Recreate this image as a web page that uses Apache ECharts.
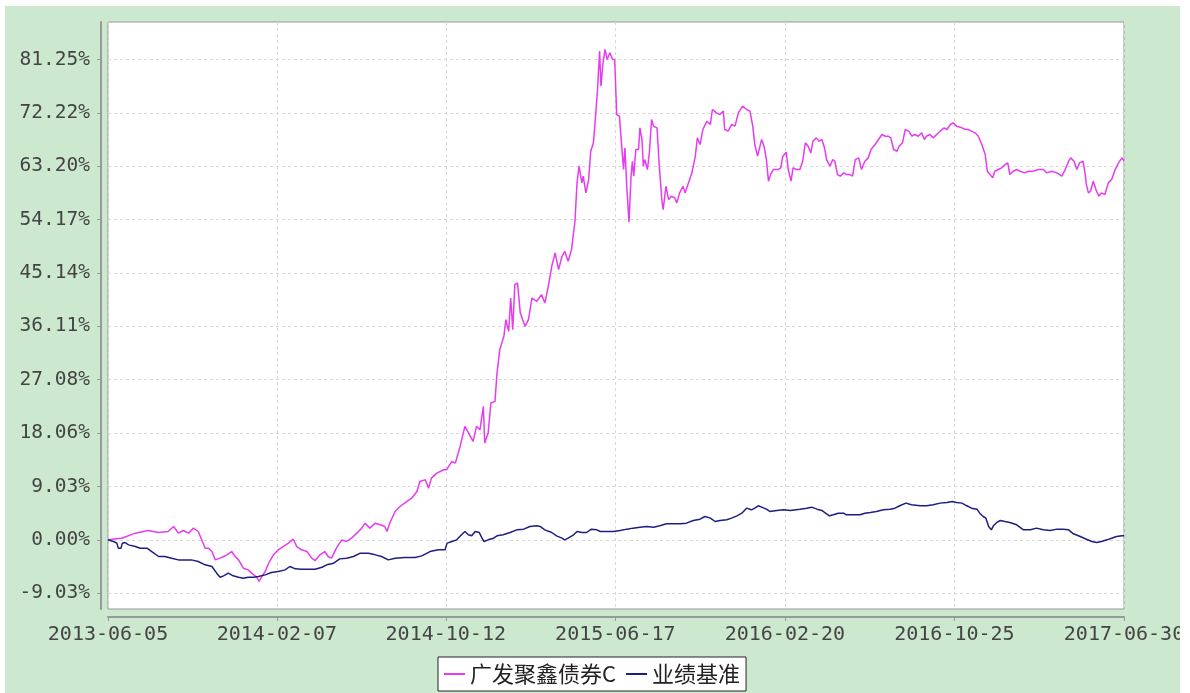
<!DOCTYPE html>
<html><head><meta charset="utf-8">
<script src="https://cdn.jsdelivr.net/npm/echarts@6/dist/echarts.min.js"></script>
<style>
html,body{margin:0;padding:0;background:#fff;width:1190px;height:693px;overflow:hidden;}
#chart{position:absolute;left:5px;top:6px;width:1175px;height:687px;background:#cce8cf;}
</style></head><body><div id="chart"></div>
<script>
const xTickLabels = ['2013-06-05','2014-02-07','2014-10-12','2015-06-17','2016-02-20','2016-10-25','2017-06-30'];
const yTickValues = [-9.028, 0, 9.028, 18.056, 27.084, 36.112, 45.14, 54.168, 63.196, 72.224, 81.252];
const fundName = '广发聚鑫债券C';
const benchName = '业绩基准';
// [days since 2013-06-05, cumulative return %]
const fundData = [[0,0.00],[20,0.28],[40,1.13],[59,1.58],[74,1.24],[88,1.41],[96,2.26],[103,1.13],[110,1.58],[118,1.13],[125,1.98],[132,1.41],[137,0.00],[142,-1.41],[147,-1.41],[152,-1.98],[157,-3.39],[164,-3.10],[169,-2.82],[174,-2.54],[181,-1.98],[186,-2.82],[191,-3.39],[198,-4.80],[205,-5.08],[213,-5.93],[217,-6.21],[221,-7.05],[225,-6.21],[230,-5.36],[235,-3.95],[242,-2.54],[249,-1.69],[256,-1.13],[264,-0.56],[271,0.11],[276,-1.13],[283,-1.69],[291,-1.98],[298,-3.10],[303,-3.50],[310,-2.54],[317,-1.98],[322,-2.82],[327,-3.10],[334,-1.41],[342,0.00],[349,-0.28],[356,0.28],[364,1.13],[371,1.98],[376,2.82],[383,1.98],[391,2.82],[398,2.54],[405,2.26],[408,1.41],[412,2.82],[420,4.80],[427,5.64],[434,6.21],[444,7.05],[452,8.18],[456,9.88],[464,10.16],[469,8.75],[473,10.44],[481,11.29],[491,11.85],[495,11.85],[503,13.26],[508,12.98],[515,15.80],[522,19.19],[530,17.49],[534,16.65],[539,19.19],[544,18.62],[549,22.57],[551,16.37],[556,18.06],[560,23.14],[566,23.42],[569,28.22],[573,32.17],[579,34.42],[582,37.25],[586,35.27],[589,40.91],[592,35.55],[595,43.17],[599,43.45],[603,38.37],[610,36.12],[615,37.25],[620,40.91],[627,40.35],[634,41.48],[639,40.07],[644,42.89],[649,46.28],[654,48.53],[659,45.71],[664,47.97],[668,48.81],[673,47.12],[678,49.10],[680,51.07],[683,53.89],[686,60.38],[689,63.21],[693,60.38],[695,61.51],[699,58.69],[703,60.95],[706,65.74],[710,67.16],[712,69.98],[716,76.19],[719,82.67],[721,76.75],[724,80.70],[727,82.96],[730,81.26],[734,82.39],[738,81.26],[741,81.26],[742,78.44],[744,71.95],[748,71.67],[751,67.16],[754,62.64],[756,66.31],[759,59.26],[762,53.72],[765,61.51],[767,64.05],[769,61.51],[772,66.03],[776,66.03],[778,69.70],[781,67.72],[783,63.21],[785,64.33],[789,62.64],[792,65.74],[795,71.11],[798,69.98],[803,69.70],[806,63.77],[810,57.56],[812,55.87],[816,59.82],[820,57.56],[824,58.13],[829,57.84],[832,57.00],[836,58.69],[841,59.82],[844,58.69],[849,60.38],[854,62.08],[859,64.90],[862,68.00],[866,66.87],[870,69.41],[876,70.82],[881,70.26],[884,72.80],[890,72.23],[895,71.95],[900,72.52],[902,69.41],[907,69.13],[912,70.26],[917,69.98],[922,72.23],[928,73.36],[934,72.80],[939,72.52],[943,69.98],[946,66.87],[950,64.90],[953,66.31],[956,67.72],[960,66.31],[963,64.33],[966,60.67],[969,61.79],[973,62.64],[980,62.64],[984,62.92],[987,64.90],[992,65.58],[995,62.64],[999,60.67],[1002,62.92],[1007,62.64],[1012,62.64],[1016,64.05],[1020,67.16],[1024,66.59],[1028,65.46],[1031,67.44],[1036,68.00],[1040,67.44],[1044,67.72],[1048,66.31],[1051,64.33],[1056,63.21],[1060,64.33],[1063,64.05],[1067,61.79],[1071,61.51],[1076,62.08],[1080,61.79],[1085,61.79],[1089,61.51],[1093,64.33],[1098,64.62],[1102,62.64],[1107,64.05],[1112,64.62],[1116,66.03],[1122,66.87],[1127,67.72],[1132,68.57],[1137,68.28],[1141,68.28],[1145,68.00],[1149,66.03],[1154,65.74],[1157,66.59],[1162,67.16],[1166,69.41],[1171,69.13],[1176,68.28],[1180,68.57],[1185,68.28],[1190,68.85],[1194,67.72],[1197,68.28],[1202,68.57],[1207,68.00],[1212,68.57],[1217,69.13],[1223,69.70],[1227,69.41],[1232,70.26],[1236,70.54],[1241,69.98],[1249,69.70],[1254,69.41],[1258,69.41],[1263,69.13],[1268,68.85],[1273,68.28],[1278,66.87],[1283,65.18],[1286,62.36],[1290,61.79],[1294,61.23],[1297,62.36],[1302,62.64],[1307,62.92],[1312,63.49],[1316,63.77],[1319,61.79],[1324,62.36],[1329,62.64],[1334,62.36],[1341,62.08],[1346,62.36],[1353,62.36],[1361,62.64],[1368,62.64],[1373,62.08],[1380,62.36],[1388,62.08],[1395,61.51],[1400,62.64],[1405,64.05],[1408,64.62],[1413,64.05],[1417,62.64],[1421,63.77],[1426,64.05],[1429,62.08],[1431,60.10],[1434,58.69],[1437,58.97],[1441,60.67],[1445,59.26],[1449,58.13],[1453,58.69],[1458,58.41],[1463,60.38],[1468,60.95],[1473,62.64],[1478,63.77],[1483,64.62],[1486,64.05]];
const benchData = [[0,0],[8,-0.28],[13,-0.56],[15,-1.41],[19,-1.41],[21,-0.56],[25,-0.45],[30,-0.85],[40,-1.13],[47,-1.41],[57,-1.41],[64,-1.98],[74,-2.82],[83,-2.82],[93,-3.10],[103,-3.39],[113,-3.39],[122,-3.39],[132,-3.67],[142,-4.23],[152,-4.51],[159,-5.64],[164,-6.32],[169,-6.09],[176,-5.64],[183,-6.09],[191,-6.32],[198,-6.49],[205,-6.32],[213,-6.32],[220,-6.21],[230,-5.93],[239,-5.53],[249,-5.36],[259,-5.08],[266,-4.51],[274,-4.91],[283,-4.97],[293,-4.97],[303,-4.97],[313,-4.63],[320,-4.23],[330,-3.95],[339,-3.22],[349,-3.10],[359,-2.82],[369,-2.26],[381,-2.26],[391,-2.54],[400,-2.82],[410,-3.39],[420,-3.10],[434,-2.99],[449,-2.99],[459,-2.71],[471,-1.98],[483,-1.69],[493,-1.69],[496,-0.56],[503,-0.28],[510,0],[517,0.85],[522,1.41],[527,0.85],[532,0.68],[537,1.41],[543,1.24],[547,0.28],[550,-0.28],[556,0],[564,0.28],[569,0.68],[578,0.85],[588,1.24],[598,1.69],[608,1.81],[617,2.26],[627,2.37],[632,2.26],[639,1.69],[649,1.24],[656,0.68],[664,0.28],[668,0],[673,0.28],[681,0.85],[686,1.41],[693,1.24],[700,1.24],[707,1.81],[715,1.69],[720,1.41],[729,1.41],[739,1.41],[749,1.58],[759,1.81],[768,1.98],[778,2.14],[788,2.26],[798,2.14],[807,2.37],[817,2.71],[827,2.71],[837,2.71],[846,2.82],[856,3.27],[866,3.50],[873,3.95],[881,3.67],[888,3.10],[895,3.27],[905,3.39],[912,3.67],[920,4.06],[927,4.51],[934,5.36],[941,5.08],[946,5.36],[951,5.76],[956,5.53],[963,5.19],[968,4.80],[978,4.97],[988,5.08],[998,4.97],[1012,5.19],[1022,5.36],[1029,5.53],[1037,5.19],[1044,4.97],[1051,4.40],[1055,4.06],[1061,4.23],[1068,4.51],[1076,4.51],[1080,4.23],[1090,4.23],[1100,4.23],[1107,4.51],[1115,4.63],[1124,4.80],[1134,5.08],[1144,5.19],[1151,5.36],[1158,5.76],[1167,6.21],[1175,5.93],[1188,5.76],[1197,5.76],[1207,5.93],[1217,6.21],[1227,6.32],[1235,6.49],[1241,6.32],[1249,6.21],[1256,5.76],[1263,5.36],[1271,5.19],[1275,4.51],[1280,3.95],[1284,3.67],[1288,2.26],[1292,1.69],[1295,2.37],[1300,2.94],[1305,3.27],[1312,3.10],[1319,2.94],[1329,2.54],[1339,1.69],[1349,1.69],[1358,1.98],[1368,1.69],[1378,1.58],[1388,1.81],[1397,1.81],[1405,1.69],[1412,1.02],[1422,0.56],[1431,0.11],[1439,-0.28],[1446,-0.45],[1453,-0.28],[1461,0],[1468,0.28],[1475,0.56],[1483,0.68],[1486,0.68]];

const DAY = 86400000;
const t0 = Date.parse(xTickLabels[0]);
const xTickDays = xTickLabels.map(s => Math.round((Date.parse(s) - t0) / DAY));

const chart = echarts.init(document.getElementById('chart'), null, {renderer: 'canvas'});
chart.setOption({
  animation: false,
  backgroundColor: 'transparent',
  grid: {left: 103, right: 56, top: 16, bottom: 84, outerBoundsMode: 'none', containLabel: false,
    show: true, backgroundColor: '#fff', borderColor: '#999', borderWidth: 1},
  legend: {
    left: 433, top: 651, padding: [6, 6], itemGap: 10, itemWidth: 21, itemHeight: 2, icon: 'rect',
    backgroundColor: '#fff', borderColor: '#222', borderWidth: 1,
    textStyle: {fontFamily: 'Noto Sans CJK SC', fontSize: 22, color: '#222'},
    data: [fundName, benchName]
  },
  xAxis: {
    type: 'value', min: 0, max: xTickDays[xTickDays.length - 1], offset: 8, position: 'bottom',
    axisLine: {show: true, onZero: false, lineStyle: {color: '#999', width: 2}},
    axisTick: {show: true, customValues: xTickDays, length: 4, lineStyle: {color: '#999', width: 1}},
    axisLabel: {customValues: xTickDays, color: '#444', fontFamily: 'DejaVu Sans Mono', fontSize: 20, margin: 8,
      hideOverlap: false, formatter: v => xTickLabels[xTickDays.indexOf(Math.round(v))] || ''},
    splitLine: {show: true, lineStyle: {color: '#d9d9d9', type: [3, 3], width: 1}}
  },
  yAxis: {
    type: 'value', min: -11.7, max: 87.6, offset: 7,
    axisLine: {show: true, onZero: false, lineStyle: {color: '#999', width: 2}},
    axisTick: {show: true, customValues: yTickValues, length: 4, lineStyle: {color: '#999', width: 1}},
    axisLabel: {customValues: yTickValues, color: '#444', fontFamily: 'DejaVu Sans Mono', fontSize: 19.5, margin: 11,
      formatter: v => v.toFixed(2) + '%'},
    splitLine: {show: true, lineStyle: {color: '#d9d9d9', type: [3, 3], width: 1}}
  },
  series: [
    {name: fundName, type: 'line', data: fundData, showSymbol: false, symbol: 'none', color: '#e63cf0', lineStyle: {width: 1.5, color: '#e63cf0'}},
    {name: benchName, type: 'line', data: benchData, showSymbol: false, symbol: 'none', color: '#1e1e82', lineStyle: {width: 1.5, color: '#1e1e82'}}
  ]
});
</script></body></html>
